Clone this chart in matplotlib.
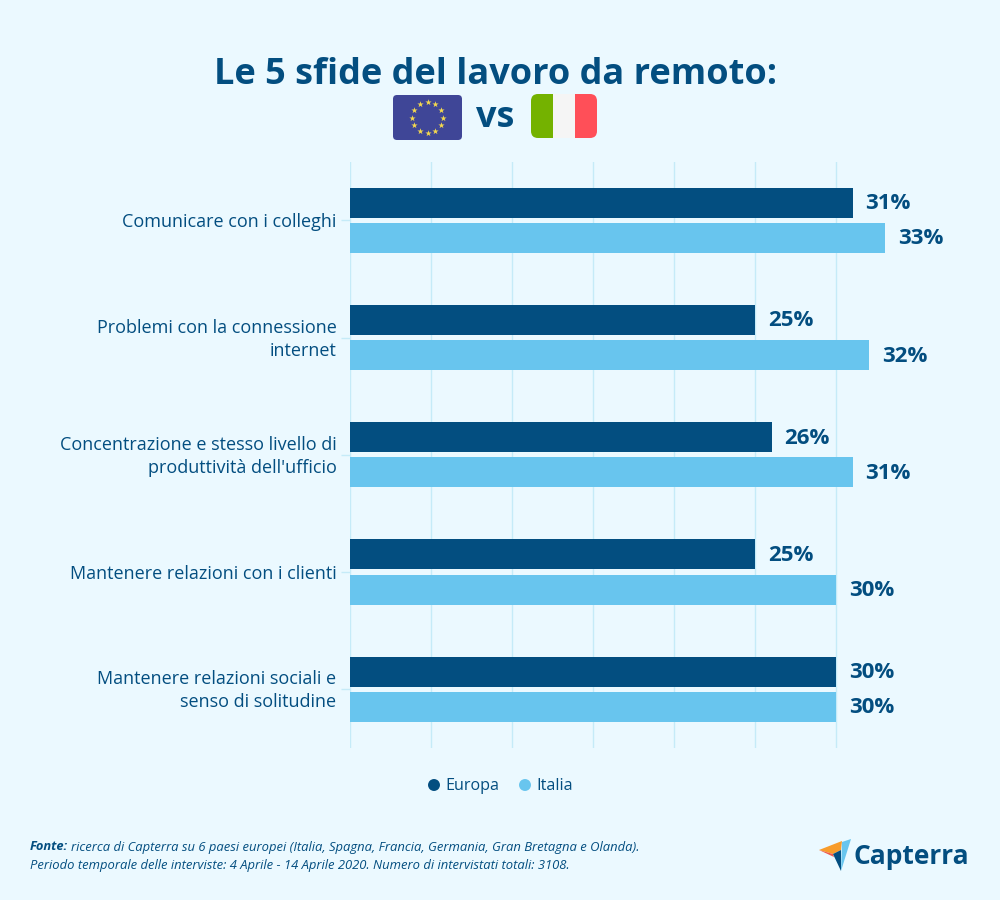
import numpy as np
import matplotlib
matplotlib.use("Agg")
import matplotlib.pyplot as plt
from matplotlib.patches import FancyBboxPatch, Polygon, Rectangle
from matplotlib.transforms import ScaledTranslation

plt.rcParams["font.family"] = ["Open Sans", "DejaVu Sans"]

categories = [
    "Comunicare con i colleghi",
    "Problemi con la connessione\ninternet",
    "Concentrazione e stesso livello di\nproduttività dell'ufficio",
    "Mantenere relazioni con i clienti",
    "Mantenere relazioni sociali e\nsenso di solitudine",
]
europa = [31, 25, 26, 25, 30]
italia = [33, 32, 31, 30, 30]
grid_ticks = [0, 5, 10, 15, 20, 25, 30]

BG = "#ebf9ff"
DARK = "#034e80"
LIGHT = "#68c5ee"
GRID = "#c5ebf8"

fig = plt.figure(figsize=(10, 9), dpi=100, facecolor=BG)

# main chart, placed in pixels of the 1000x900 picture
ax = fig.add_axes([350.4 / 1000, 1 - 747.95 / 900, 567 / 1000, 586.25 / 900])
ax.set_facecolor("none")
ax.set_xlim(0, 35)
ax.set_ylim(4.5, -0.5)

y = np.arange(len(categories))
ax.barh(y - 0.15, europa, height=0.256, color=DARK, zorder=3)
ax.barh(y + 0.15, italia, height=0.256, color=LIGHT, zorder=3)

for i in y:
    ax.annotate(f"{europa[i]}%", (europa[i], i - 0.15), xytext=(13, -1), textcoords="offset pixels",
                va="center", ha="left", fontsize=16, fontweight="bold", color=DARK)
    ax.annotate(f"{italia[i]}%", (italia[i], i + 0.15), xytext=(13, -1), textcoords="offset pixels",
                va="center", ha="left", fontsize=16, fontweight="bold", color=DARK)

for s in ax.spines.values():
    s.set_visible(False)
ax.set_xticks(grid_ticks)
ax.tick_params(axis="x", length=0, labelbottom=False)
ax.grid(axis="x", color=GRID, linewidth=1, zorder=0)
ax.set_axisbelow(True)
ax.set_yticks(y)
ax.set_yticklabels(categories, fontsize=13, color=DARK, linespacing=1.36)
ax.tick_params(axis="y", length=6.5, width=1, color=GRID, pad=3.5)

# two line labels sit a little higher than the tick
for lab in ax.get_yticklabels():
    if "\n" in lab.get_text():
        lab.set_transform(lab.get_transform() + ScaledTranslation(0, 3 / 100, fig.dpi_scale_trans))

# overlay in pixel coordinates for title, flags, legend, footer and logo
ov = fig.add_axes([0, 0, 1, 1])
ov.set_xlim(0, 1000)
ov.set_ylim(900, 0)
ov.axis("off")

ov.text(496, 75, "Le 5 sfide del lavoro da remoto:", ha="center", va="center",
        fontsize=26, fontweight="bold", color=DARK)
ov.text(495, 118, "vs", ha="center", va="center", fontsize=26, fontweight="bold", color=DARK)

# EU flag
ov.add_patch(FancyBboxPatch((393, 95), 69, 45, boxstyle="round,pad=0,rounding_size=4",
                            fc="#3f4697", ec="none"))
angles = np.deg2rad(np.arange(0, 360, 30))
ov.scatter(427.5 + 15.5 * np.sin(angles), 117.5 - 15.5 * np.cos(angles), marker="*", s=22,
           color="#f5d94e", linewidths=0, zorder=3)

# Italian flag
clip = FancyBboxPatch((531, 94), 66, 44, boxstyle="round,pad=0,rounding_size=7",
                      fc="none", ec="none")
ov.add_patch(clip)
for x0, col in zip([531, 553, 575], ["#74b200", "#f5f5f5", "#ff4f58"]):
    r = Rectangle((x0, 94), 22, 44, fc=col, ec="none")
    ov.add_patch(r)
    r.set_clip_path(clip)

# legend
ov.scatter([434, 525], [785, 785], s=74, c=[DARK, LIGHT], linewidths=0)
ov.text(445, 786.5, "Europa", ha="left", va="center", fontsize=11.6, color=DARK)
ov.text(536, 786.5, "Italia", ha="left", va="center", fontsize=11.6, color=DARK)

# footer
ov.text(30, 847, "Fonte:", ha="left", va="center", fontsize=9.3, style="italic",
        fontweight="bold", color=DARK)
ov.text(71, 847, "ricerca di Capterra su 6 paesi europei (Italia, Spagna, Francia, Germania, "
        "Gran Bretagna e Olanda).", ha="left", va="center", fontsize=9.33, style="italic", color=DARK)
ov.text(30, 865, "Periodo temporale delle interviste: 4 Aprile - 14 Aprile 2020. "
        "Numero di intervistati totali: 3108.", ha="left", va="center", fontsize=9.33,
        style="italic", color=DARK)

# Capterra logo
ov.add_patch(Polygon([(819, 850), (842, 841), (841, 850), (833, 854)], fc="#f89c2b", ec="none"))
ov.add_patch(Polygon([(819, 850), (833, 854), (834, 857)], fc="#ef5a4a", ec="none"))
ov.add_patch(Polygon([(842, 842), (851, 839), (841, 871)], fc="#68c5ee", ec="none"))
ov.add_patch(Polygon([(833, 854), (841, 850), (841, 871)], fc="#034e80", ec="none"))
ov.text(853.5, 857, "Capterra", ha="left", va="center", fontsize=19, fontweight="bold", color=DARK)

fig.savefig("out.png", dpi=100, facecolor=BG)
